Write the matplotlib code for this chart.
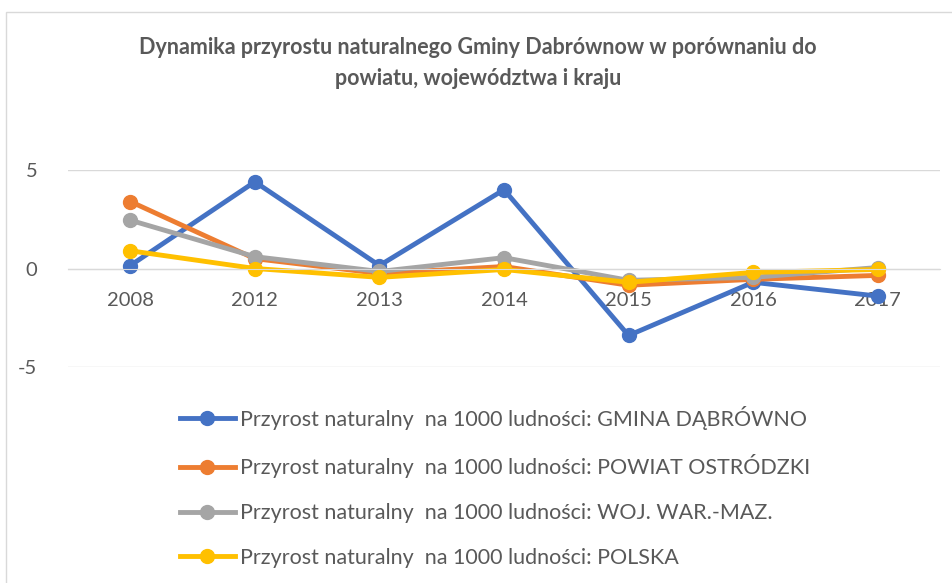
import matplotlib
matplotlib.use('Agg')
import matplotlib.pyplot as plt
from matplotlib.lines import Line2D
from matplotlib.patches import Rectangle

plt.rcParams['font.family'] = ['Lato', 'DejaVu Sans']

years = ['2008', '2012', '2013', '2014', '2015', '2016', '2017']
gmina = [0.15, 4.4, 0.15, 4.0, -3.4, -0.7, -1.4]
powiat = [3.4, 0.5, -0.25, 0.1, -0.85, -0.55, -0.35]
woj = [2.45, 0.6, -0.15, 0.55, -0.6, -0.45, 0.05]
polska = [0.9, 0.0, -0.45, -0.05, -0.7, -0.2, -0.05]

labels = ['Przyrost naturalny  na 1000 ludności: GMINA DĄBRÓWNO',
          'Przyrost naturalny  na 1000 ludności: POWIAT OSTRÓDZKI',
          'Przyrost naturalny  na 1000 ludności: WOJ. WAR.-MAZ.',
          'Przyrost naturalny  na 1000 ludności: POLSKA']
colors = ['#4472C4', '#ED7D31', '#A5A5A5', '#FFC000']
txt = '#595959'

fig = plt.figure(figsize=(9.53, 5.83), dpi=100)
fig.patches.append(Rectangle((6/953, -0.01), 1.0, 1 - 12/583 + 0.01, transform=fig.transFigure,
                             fill=False, edgecolor='#d9d9d9', lw=1))

ax = fig.add_axes([68/953, 1 - 367/583, 872/953, 197/583])
x = range(len(years))
handles = []
for data, c, lab in zip([gmina, powiat, woj, polska], colors, labels):
    ax.plot(x, data, color=c, lw=3.5, marker='o', markersize=10, solid_capstyle='round')
    handles.append(Line2D([0], [0], color=c, lw=3.5, marker='o', markersize=10))

ax.set_xlim(-0.5, 6.5)
ax.set_ylim(-5, 5)
ax.set_yticks([-5, 0, 5])
ax.set_yticklabels(['-5', '0', '5'])
ax.set_xticks(list(x))
ax.set_xticklabels(years)
ax.grid(axis='y', color='#d9d9d9', lw=1)
ax.set_axisbelow(True)
for s in ['top', 'right', 'left']:
    ax.spines[s].set_visible(False)
ax.spines['bottom'].set_position(('data', 0))
ax.spines['bottom'].set_color('#d9d9d9')
ax.tick_params(axis='x', length=0, pad=17, labelsize=14.5, labelcolor=txt)
ax.tick_params(axis='y', length=0, pad=22, labelsize=14.5, labelcolor=txt)

fig.text(478/953, 1 - 63/583, 'Dynamika przyrostu naturalnego Gminy Dabrównow w porównaniu do\npowiatu, województwa i kraju',
         ha='center', va='center', fontsize=15.5, fontweight='bold', color=txt, linespacing=1.55)

fig.legend(handles, labels, loc='upper left', bbox_to_anchor=(171/953, 1 - 397/583), frameon=False,
           borderaxespad=0, fontsize=15.5, labelcolor=txt, handlelength=2.55, handletextpad=0.25,
           labelspacing=1.15)

fig.savefig('out.png', dpi=100)
